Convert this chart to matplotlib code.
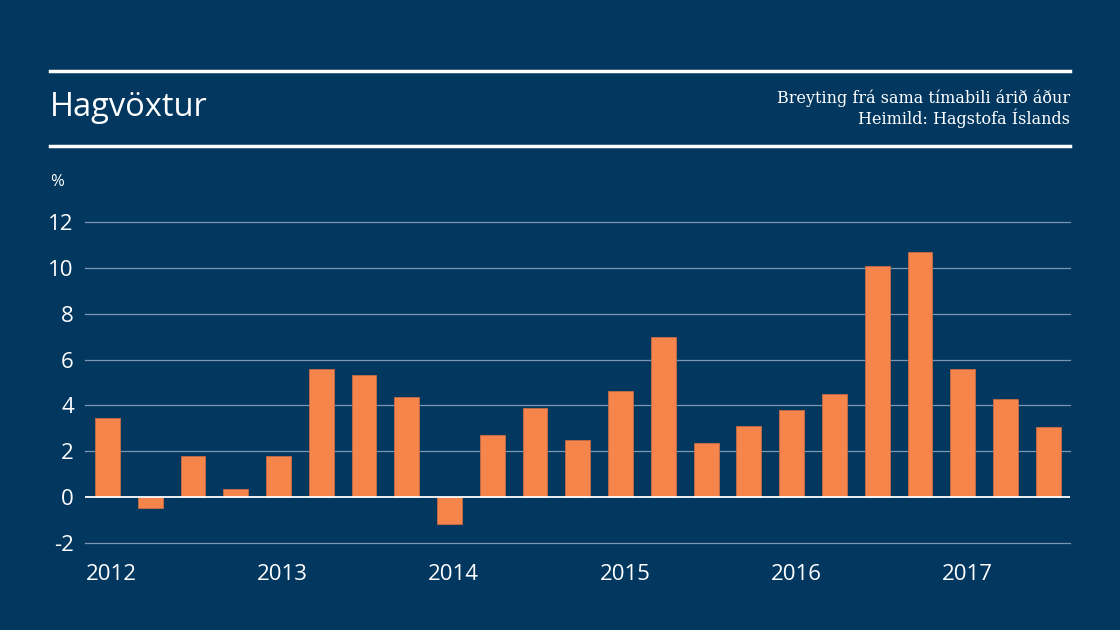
import matplotlib.pyplot as plt
from matplotlib.lines import Line2D

# quarterly growth, 2012 Q1 - 2017 Q3
years = [2012, 2013, 2014, 2015, 2016, 2017]
quarters_per_year = 4
growth = [3.45, -0.48, 1.78, 0.37,
          1.78, 5.6, 5.33, 4.38,
          -1.16, 2.73, 3.9, 2.5,
          4.63, 6.98, 2.38, 3.1,
          3.8, 4.5, 10.08, 10.68,
          5.58, 4.27, 3.08]
yticks = [-2, 0, 2, 4, 6, 8, 10, 12]

bg = '#02375f'
bar_color = '#f5854a'
grid_color = '#7d97b2'

fig = plt.figure(figsize=(11.2, 6.3), dpi=100, facecolor=bg)

# header lines and texts
fig.add_artist(Line2D([50 / 1120, 1070 / 1120], [1 - 71 / 630] * 2,
                      color='white', lw=2.5, transform=fig.transFigure))
fig.add_artist(Line2D([50 / 1120, 1070 / 1120], [1 - 146 / 630] * 2,
                      color='white', lw=2.5, transform=fig.transFigure))
fig.text(50 / 1120, 1 - 108 / 630, 'Hagvöxtur', color='white', fontsize=23.5,
         family='Open Sans', va='center', ha='left')
fig.text(1070 / 1120, 1 - 109 / 630,
         'Breyting frá sama tímabili árið áður\nHeimild: Hagstofa Íslands',
         color='white', fontsize=11.5, family='DejaVu Serif', va='center',
         ha='right', linespacing=1.1)
fig.text(50 / 1120, 1 - 182 / 630, '%', color='white', fontsize=12,
         family='Open Sans', va='center', ha='left')

ax = fig.add_axes([85 / 1120, 1 - 543 / 630, 985 / 1120, 321 / 630])
ax.set_facecolor(bg)

x = list(range(len(growth)))
ax.bar(x, growth, width=0.58, color=bar_color, edgecolor='#c86a45',
       linewidth=0.6, zorder=3)

ax.set_xlim(-0.526, 22.51)
ax.set_ylim(-2, 12)
ax.set_yticks(yticks)
ax.set_yticklabels([str(v) for v in yticks])
for v in yticks:
    if v == 0:
        ax.axhline(v, color='white', lw=1.3, zorder=4)
    else:
        ax.axhline(v, color=grid_color, lw=0.9, zorder=1, clip_on=False)

ax.set_xticks([i * quarters_per_year + 0.1 for i in range(len(years))])
ax.set_xticklabels([str(y) for y in years])

for s in ax.spines.values():
    s.set_visible(False)
ax.tick_params(axis='both', length=0, colors='white', labelsize=16)
ax.tick_params(axis='y', pad=8)
ax.tick_params(axis='x', pad=15)
for lab in ax.get_xticklabels() + ax.get_yticklabels():
    lab.set_family('Open Sans')

fig.savefig('out.png', dpi=100, facecolor=bg)
